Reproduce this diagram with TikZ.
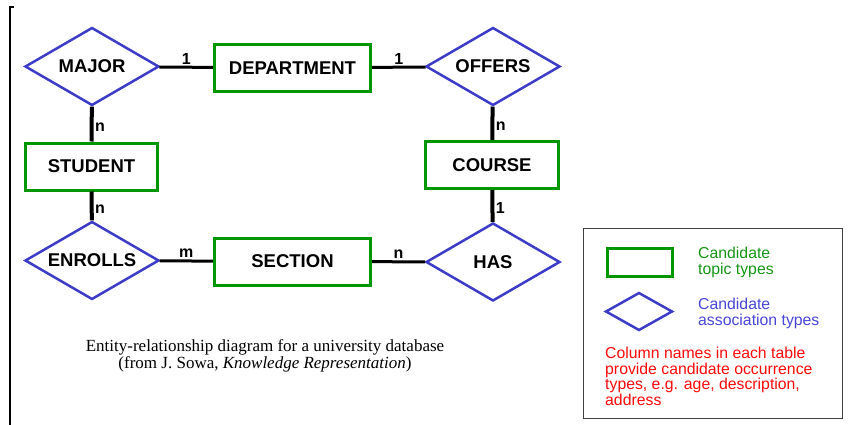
\documentclass[tikz,border=0pt]{standalone}
\usepackage{fontspec}
\setmainfont{Liberation Sans}
\newfontfamily\capserif{Liberation Serif}
\usetikzlibrary{shapes.geometric}
\definecolor{egreen}{RGB}{0,150,0}
\definecolor{rblue}{RGB}{60,60,200}
\definecolor{lgreen}{RGB}{20,150,20}
\definecolor{lblue}{RGB}{70,70,215}
\definecolor{lred}{RGB}{250,10,10}
\begin{document}
\begin{tikzpicture}[x=1pt,y=-1pt,
 ent/.style={draw=egreen, line width=3pt, fill=white, inner sep=0pt,
   font=\fontsize{18.5}{20}\selectfont\bfseries, minimum height=47pt},
 rel/.style={draw=rblue, line width=2.5pt, diamond, aspect=1.7, inner sep=0pt,
   minimum width=134pt, minimum height=78pt, fill=white,
   font=\fontsize{18.5}{20}\selectfont\bfseries},
 link/.style={line width=3pt},
 vlink/.style={line width=4pt},
 card/.style={font=\fontsize{16}{16}\selectfont\bfseries, inner sep=1.5pt},
 legtext/.style={anchor=north west, inner sep=0pt, align=left,
   font=\fontsize{15.8}{15.6}\selectfont},
]
\useasboundingbox (0,0) rectangle (848,425);

% left bracket line
\draw[line width=2pt] (13.5,7) -- (10,7) -- (10,425);

% entities
\node[ent, minimum width=156pt] (dept) at (292.5,68) {DEPARTMENT};
\node[ent, minimum width=132pt] (student) at (91.5,166.5) {STUDENT};
\node[ent, minimum width=133pt] (course) at (492,165) {COURSE};
\node[ent, minimum width=156pt] (section) at (292.5,261.5) {SECTION};

% relationships
\node[rel] (major) at (92,66.5) {MAJOR};
\node[rel] (offers) at (493,66.5) {OFFERS};
\node[rel] (enrolls) at (92,260.5) {ENROLLS};
\node[rel] (has) at (493,262) {HAS};

% connectors
\draw[link] (major) -- node[card, above] {1} (dept);
\draw[link] (dept) -- node[card, above] {1} (offers);
\draw[vlink] (major) -- node[card, right, pos=.58] {n} (student);
\draw[vlink] (offers) -- node[card, right, pos=.58] {n} (course);
\draw[vlink] (student) -- node[card, right, pos=.6] {n} (enrolls);
\draw[vlink] (course) -- node[card, right, pos=.55] {1} (has);
\draw[link] (enrolls) -- node[card, above] {m} (section);
\draw[link] (section) -- node[card, above] {n} (has);

% caption
\node[align=center, inner sep=0pt, font=\capserif\fontsize{17}{17.5}\selectfont] (caption) at (265,356)
 {Entity-relationship diagram for a university database\\(from J. Sowa, \textit{Knowledge Representation})};

% legend
\node[draw=black!75, line width=1.2pt, minimum width=259pt, minimum height=190pt, inner sep=0pt] (legend) at (713,323.5) {};
\node[draw=egreen, line width=3pt, minimum width=65pt, minimum height=28pt, inner sep=0pt] (legent) at (640,262.5) {};
\node[draw=rblue, line width=2.5pt, diamond, aspect=1.7, minimum width=67pt, minimum height=38pt, inner sep=0pt] (legrel) at (639,311.5) {};
\node[legtext, text=lgreen] (legenttext) at (698,247) {Candidate\\topic types};
\node[legtext, text=lblue] (legreltext) at (698,298) {Candidate\\association types};
\node[legtext, text=lred] (legocctext) at (605,347) {Column names in each table\\provide candidate occurrence\\types, e.g. age, description,\\address};
\end{tikzpicture}
\end{document}
